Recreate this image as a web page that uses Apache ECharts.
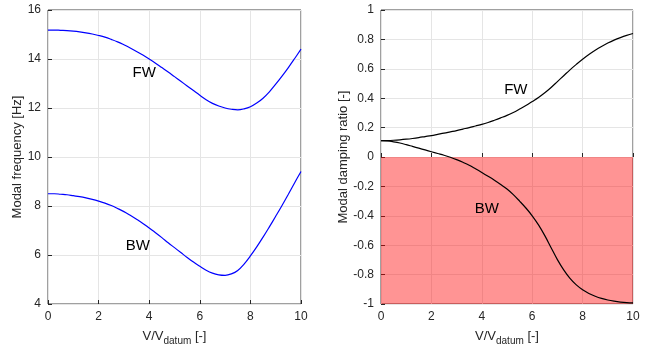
<!DOCTYPE html>
<html>
<head>
<meta charset="utf-8">
<script src="https://cdn.jsdelivr.net/npm/echarts@6/dist/echarts.min.js"></script>
<style>
  html, body { margin: 0; padding: 0; background: #fff; }
  #main { width: 650px; height: 347px; }
</style>
</head>
<body>
<div id="main"></div>
<script>
var xs = [0, 0.25, 0.5, 0.75, 1, 1.25, 1.5, 1.75, 2, 2.25, 2.5, 2.75, 3, 3.25, 3.5, 3.75, 4, 4.25, 4.5, 4.75,
          5, 5.25, 5.5, 5.75, 6, 6.25, 6.5, 6.75, 7, 7.25, 7.5, 7.75, 8, 8.25, 8.5, 8.75, 9, 9.25, 9.5, 9.75, 10];

// modal frequency [Hz]
var freqFW = [15.18, 15.18, 15.17, 15.16, 15.14, 15.11, 15.07, 15.02, 14.96, 14.89, 14.8, 14.7, 14.58, 14.45, 14.31, 14.16, 14.0, 13.83, 13.65, 13.47,
              13.28, 13.09, 12.9, 12.71, 12.52, 12.34, 12.19, 12.08, 12.0, 11.95, 11.925, 11.965, 12.05, 12.2, 12.4, 12.66, 12.97, 13.3, 13.65, 14.02, 14.4];
var freqBW = [8.5, 8.5, 8.48, 8.46, 8.42, 8.38, 8.33, 8.27, 8.2, 8.12, 8.02, 7.9, 7.77, 7.62, 7.46, 7.29, 7.1, 6.91, 6.71, 6.5,
              6.3, 6.1, 5.9, 5.71, 5.54, 5.38, 5.26, 5.19, 5.17, 5.23, 5.37, 5.63, 5.96, 6.33, 6.73, 7.15, 7.58, 8.02, 8.48, 8.95, 9.41];

// modal damping ratio [-]
var dampFW = [0.111, 0.112, 0.114, 0.117, 0.121, 0.126, 0.132, 0.139, 0.146, 0.154, 0.162, 0.171, 0.18, 0.19, 0.2, 0.211, 0.222, 0.235, 0.25, 0.266,
              0.283, 0.303, 0.326, 0.35, 0.377, 0.405, 0.437, 0.473, 0.513, 0.553, 0.593, 0.63, 0.665, 0.697, 0.726, 0.752, 0.775, 0.795, 0.812, 0.827, 0.84];
var dampBW = [0.111, 0.109, 0.103, 0.095, 0.084, 0.072, 0.06, 0.048, 0.036, 0.024, 0.012, -0.002, -0.018, -0.036, -0.056, -0.08, -0.105, -0.131, -0.158, -0.187,
              -0.218, -0.256, -0.3, -0.347, -0.4, -0.462, -0.535, -0.617, -0.698, -0.768, -0.826, -0.87, -0.903, -0.928, -0.947, -0.962, -0.973, -0.981, -0.987, -0.991, -0.993];

var freqTicks = { min: 4, max: 16, interval: 2 };
var dampTicks = { min: -1, max: 1, interval: 0.2 };

function pairs(x, y) {
    return x.map(function (v, i) { return [v, y[i]]; });
}

var chartDom = document.getElementById('main');
var myChart = echarts.init(chartDom);
var option;

var txt = '#262626';
var gridCol = '#e5e5e5';
var fontFam = 'Liberation Sans, Arial, sans-serif';

function xAxisCfg(idx) {
    return {
        type: 'value',
        gridIndex: idx,
        min: 0,
        max: 10,
        interval: 2,
        name: '{a|V/V}{s|datum}{a| [-]}',
        nameLocation: 'middle',
        nameGap: 22,
        nameTextStyle: {
            rich: {
                a: { fontSize: 13, color: txt, fontFamily: fontFam },
                s: { fontSize: 10, color: txt, fontFamily: fontFam, padding: [10, 0, 0, 0] }
            }
        },
        axisLine: { show: false },
        axisTick: { show: true, inside: true, length: 4, lineStyle: { color: txt } },
        axisLabel: { color: txt, fontSize: 12, fontFamily: fontFam, margin: 7 },
        splitLine: { show: true, lineStyle: { color: gridCol } }
    };
}

function yAxisCfg(idx, name, t, fmt) {
    return {
        type: 'value',
        gridIndex: idx,
        min: t.min,
        max: t.max,
        interval: t.interval,
        name: name,
        nameLocation: 'middle',
        nameGap: idx === 0 ? 19 : 23,
        nameTextStyle: { fontSize: 13, color: txt, fontFamily: fontFam },
        axisLine: { show: false },
        axisTick: { show: true, inside: true, length: 4, lineStyle: { color: txt } },
        axisLabel: { color: txt, fontSize: 12, fontFamily: fontFam, margin: 7, formatter: fmt },
        splitLine: { show: true, lineStyle: { color: gridCol } }
    };
}

function tag(name, coord) {
    return {
        coord: coord,
        symbol: 'circle',
        symbolSize: 1,
        itemStyle: { color: 'rgba(0,0,0,0)' },
        label: { show: true, position: 'inside', formatter: name, color: '#000', fontSize: 15, fontFamily: fontFam }
    };
}

option = {
    backgroundColor: '#fff',
    animation: false,
    grid: [
        { left: 48, top: 10, width: 253, height: 294, outerBoundsMode: 'none', show: true, borderColor: '#404040', borderWidth: 1, backgroundColor: 'transparent' },
        { left: 381, top: 10, width: 252, height: 294, outerBoundsMode: 'none', show: true, borderColor: '#404040', borderWidth: 1, backgroundColor: 'transparent' }
    ],
    xAxis: [xAxisCfg(0), xAxisCfg(1)],
    yAxis: [
        yAxisCfg(0, 'Modal frequency [Hz]', freqTicks, function (v) { return v; }),
        yAxisCfg(1, 'Modal damping ratio [-]', dampTicks, function (v) { return Math.abs(v) < 1e-9 ? '0' : String(+v.toFixed(1)); })
    ],
    series: [
        {
            name: 'FW',
            type: 'line',
            xAxisIndex: 0, yAxisIndex: 0,
            data: pairs(xs, freqFW),
            smooth: 0.4,
            showSymbol: false,
            lineStyle: { color: '#0000ff', width: 1.2 },
            markPoint: { data: [tag('FW', [3.8, 13.45])] }
        },
        {
            name: 'BW',
            type: 'line',
            xAxisIndex: 0, yAxisIndex: 0,
            data: pairs(xs, freqBW),
            smooth: 0.4,
            showSymbol: false,
            lineStyle: { color: '#0000ff', width: 1.2 },
            markPoint: { data: [tag('BW', [3.55, 6.37])] }
        },
        {
            name: 'FW damping',
            type: 'line',
            xAxisIndex: 1, yAxisIndex: 1,
            data: pairs(xs, dampFW),
            smooth: 0.4,
            showSymbol: false,
            z: 3,
            lineStyle: { color: '#000', width: 1.2 },
            markPoint: { data: [tag('FW', [5.35, 0.46])] },
            markArea: {
                silent: true,
                itemStyle: { color: 'rgba(255,0,0,0.42)' },
                data: [[{ coord: [0, 0] }, { coord: [10, -1] }]]
            }
        },
        {
            name: 'BW damping',
            type: 'line',
            xAxisIndex: 1, yAxisIndex: 1,
            data: pairs(xs, dampBW),
            smooth: 0.4,
            showSymbol: false,
            z: 3,
            lineStyle: { color: '#000', width: 1.2 },
            markPoint: { data: [tag('BW', [4.2, -0.35])] }
        }
    ]
};

option && myChart.setOption(option);
</script>
</body>
</html>
